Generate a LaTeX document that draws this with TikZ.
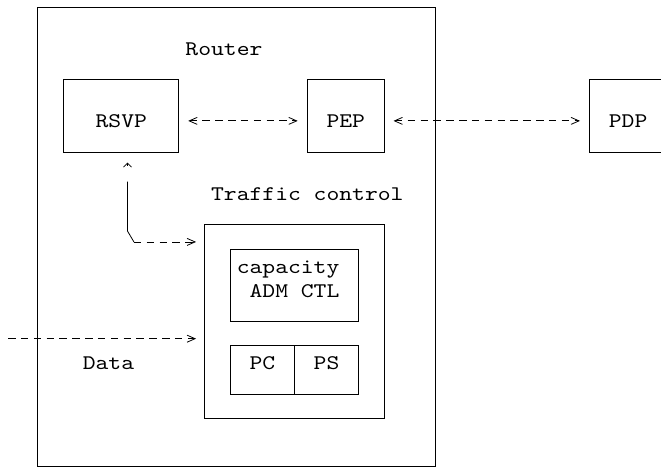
\documentclass[tikz,border=0pt]{standalone}
\usepackage{fontspec}
\newfontfamily\asciifont{lmmono10-regular.otf}[FakeStretch=1.175]
\usetikzlibrary{arrows.meta,fit}

\begin{document}
\begin{tikzpicture}[x=12.83pt,y=24.19pt,
        >={Straight Barb[length=8pt,width=7pt]},
        box/.style={draw, line width=0.8pt, inner sep=0pt},
        wire/.style={line width=0.8pt},
        dashline/.style={line width=0.8pt, dash pattern=on 7.5pt off 5.33pt},
        lbl/.style={anchor=base west, inner sep=0pt, font=\asciifont\fontsize{20.8}{24}\selectfont}]
        \useasboundingbox (-0.4365,0) rectangle (51.08,-19.347);
        % Boxes (one text cell per unit)
        \foreach \nm/\xa/\ya/\xb/\yb in {router/2.5/0.29/33.5/19.29, rsvp/4.5/3.29/13.5/6.29,
            pep/23.5/3.29/29.5/6.29, pdp/45.5/3.29/51.5/6.29, tc/15.5/9.29/29.5/17.29,
            adm/17.5/10.29/27.5/13.29, pc/17.5/14.29/22.5/16.29, ps/22.5/14.29/27.5/16.29} {
            \node[box, fit={(\xa,-\yb) (\xb,-\ya)}] (\nm) {};
        }
        % Labels
        \node[lbl] (routerl) at (14,-2.29) {Router};
        \node[lbl] (rsvpl) at (7,-5.29) {RSVP};
        \node[lbl] (pepl) at (25,-5.29) {PEP};
        \node[lbl] (pdpl) at (47,-5.29) {PDP};
        \node[lbl] (tcl) at (16,-8.29) {Traffic control};
        \node[lbl] (capl) at (18,-11.29) {capacity};
        \node[lbl] (adml) at (19,-12.29) {ADM CTL};
        \node[lbl] (pcl) at (19,-15.29) {PC};
        \node[lbl] (psl) at (24,-15.29) {PS};
        \node[lbl] (datal) at (6,-15.29) {Data};
        % Connectors
        \draw[dashline, <->, shorten <=9pt, shorten >=9pt] ([yshift=-5pt]rsvp.east) -- ([yshift=-5pt]pep.west);
        \draw[dashline, <->, shorten <=9pt, shorten >=9pt] ([yshift=-5pt]pep.east) -- ([yshift=-5pt]pdp.west);
        \coordinate (turn) at (9.5,-9.55);
        \coordinate (feed) at (10,-10);
        \draw[wire, {Straight Barb[length=4pt,width=8pt]}-] ([yshift=-10pt]rsvp.south -| turn) -- ([yshift=-13pt]rsvp.south -| turn);
        \draw[wire] ([yshift=-29pt]rsvp.south -| turn) -- (turn) -- (feed);
        \draw[dashline, ->, shorten >=8pt] (feed) -- (tc.west |- feed);
        \coordinate (datain) at (0.2,-14);
        \draw[dashline, ->, shorten >=8pt] (datain) -- (tc.west |- datain);
\end{tikzpicture}
\end{document}
